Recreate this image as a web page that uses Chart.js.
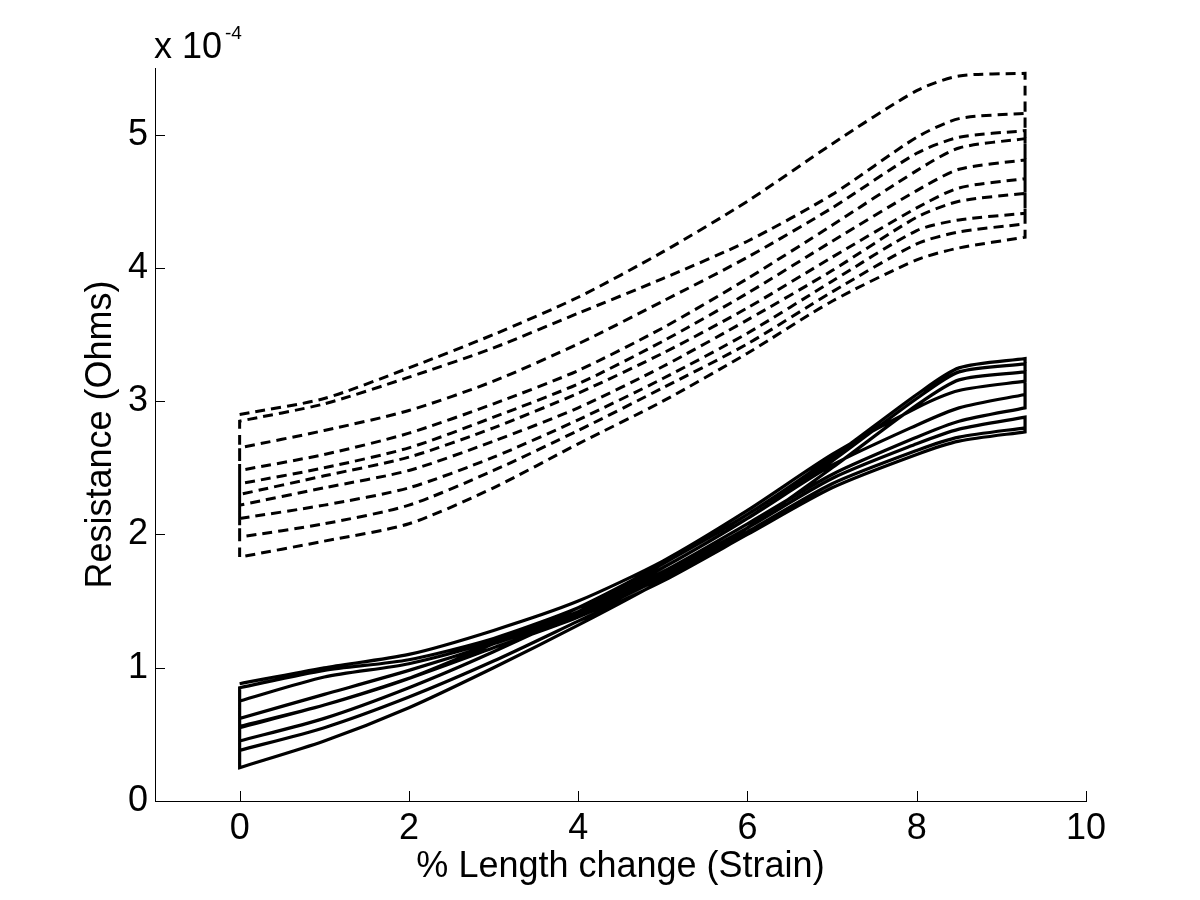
<!DOCTYPE html>
<html>
<head>
<meta charset="utf-8">
<title>Resistance vs strain</title>
<script src="https://cdn.jsdelivr.net/npm/chart.js@4/dist/chart.umd.min.js"></script>
<style>
    html, body { margin: 0; padding: 0; background: #fff; }
    #wrap { width: 1200px; height: 900px; }
</style>
</head>
<body>
<div id="wrap"><canvas id="strainChart" width="1200" height="900"></canvas></div>
<script>
const strain = [0, 1, 2, 3, 4, 5, 6, 7, 8, 8.5, 9.28];

// resistance, in units of 1e-4 Ohms (axis multiplier "x 10^-4")
// dashed bundle, listed top to bottom
const dashed1  = [2.90, 3.02, 3.25, 3.50, 3.78, 4.12, 4.50, 4.93, 5.33, 5.44, 5.46];
const dashed2  = [2.85, 2.98, 3.18, 3.40, 3.66, 3.92, 4.20, 4.55, 4.98, 5.12, 5.16];
const dashed3  = [2.65, 2.78, 2.93, 3.15, 3.43, 3.75, 4.08, 4.45, 4.86, 4.98, 5.03];
const dashed4  = [2.48, 2.60, 2.76, 2.98, 3.23, 3.55, 3.92, 4.32, 4.73, 4.90, 4.97];
const dashed5  = [2.38, 2.50, 2.65, 2.88, 3.13, 3.45, 3.81, 4.20, 4.58, 4.74, 4.81];
const dashed6  = [2.30, 2.44, 2.58, 2.80, 3.06, 3.36, 3.70, 4.08, 4.45, 4.60, 4.67];
const dashed7  = [2.22, 2.35, 2.48, 2.70, 2.95, 3.26, 3.61, 3.98, 4.38, 4.50, 4.56];
const dashed8  = [2.12, 2.22, 2.35, 2.58, 2.86, 3.17, 3.51, 3.90, 4.28, 4.36, 4.41];
const dashed9  = [1.98, 2.08, 2.22, 2.48, 2.78, 3.10, 3.43, 3.82, 4.18, 4.27, 4.33];
const dashed10 = [1.83, 1.95, 2.08, 2.35, 2.68, 3.00, 3.36, 3.75, 4.06, 4.15, 4.23];

// solid bundle
const solid1 = [0.55, 0.72, 0.92, 1.18, 1.45, 1.78, 2.15, 2.58, 3.05, 3.25, 3.32];
const solid2 = [0.45, 0.62, 0.85, 1.12, 1.42, 1.75, 2.12, 2.55, 3.02, 3.22, 3.28];
const solid3 = [0.25, 0.45, 0.70, 1.00, 1.32, 1.66, 2.05, 2.50, 2.97, 3.16, 3.22];
const solid4 = [0.88, 1.00, 1.10, 1.28, 1.50, 1.80, 2.18, 2.60, 2.95, 3.08, 3.15];
const solid5 = [0.85, 0.98, 1.06, 1.22, 1.45, 1.75, 2.12, 2.52, 2.82, 2.95, 3.05];
const solid6 = [0.75, 0.93, 1.03, 1.20, 1.42, 1.72, 2.08, 2.45, 2.73, 2.85, 2.95];
const solid7 = [0.62, 0.80, 0.98, 1.18, 1.40, 1.70, 2.05, 2.42, 2.68, 2.79, 2.88];
const solid8 = [0.56, 0.72, 0.92, 1.15, 1.38, 1.68, 2.02, 2.38, 2.63, 2.73, 2.80];
const solid9 = [0.38, 0.55, 0.78, 1.05, 1.35, 1.65, 2.00, 2.35, 2.60, 2.70, 2.77];

// order the passes are joined in (load, unload, load, ...)
const dashedCycle = [dashed1, dashed10, dashed2, dashed9, dashed3, dashed8, dashed4, dashed7, dashed5, dashed6];
const solidCycle = [solid4, solid3, solid5, solid1, solid6, solid2, solid7, solid9, solid8];

const xTicks = [0, 2, 4, 6, 8, 10];
const yTicks = [0, 1, 2, 3, 4, 5];

const FONT = '"Liberation Sans", Arial, Helvetica, sans-serif';

// join passes into one continuous trace, every other pass runs backwards.
// end points are doubled so the curve tension doesn't bulge past the turn-around
function joinPasses(passes) {
    const pts = [];
    passes.forEach((vals, i) => {
        const idx = strain.map((_, k) => k);
        if (i % 2 === 1) idx.reverse();
        idx.forEach((k, j) => {
            const p = { x: strain[k], y: vals[k] };
            pts.push(p);
            if (j === 0 || j === idx.length - 1) pts.push({ x: p.x, y: p.y });
        });
    });
    return pts;
}

// MATLAB style ticks pointing into the axes, plus the exponent label
const matlabAxes = {
    id: 'matlabAxes',
    afterDraw(chart) {
        const ctx = chart.ctx;
        const xs = chart.scales.x;
        const ys = chart.scales.y;
        const area = chart.chartArea;
        ctx.save();
        ctx.strokeStyle = '#000';
        ctx.lineWidth = 1;
        ctx.beginPath();
        xTicks.forEach(v => {
            const px = Math.round(xs.getPixelForValue(v)) + 0.5;
            ctx.moveTo(px, area.bottom);
            ctx.lineTo(px, area.bottom - 10);
        });
        yTicks.forEach(v => {
            const py = Math.round(ys.getPixelForValue(v)) + 0.5;
            ctx.moveTo(area.left, py);
            ctx.lineTo(area.left + 10, py);
        });
        ctx.stroke();

        ctx.fillStyle = '#000';
        ctx.textBaseline = 'alphabetic';
        ctx.textAlign = 'left';
        ctx.font = '36px ' + FONT;
        ctx.fillText('x 10', area.left - 1, 58);
        const w = ctx.measureText('x 10').width;
        ctx.font = '19px ' + FONT;
        ctx.fillText('-4', area.left - 1 + w + 3, 39);
        ctx.restore();
    }
};

document.addEventListener('DOMContentLoaded', () => {
    const ctx = document.getElementById('strainChart').getContext('2d');

    new Chart(ctx, {
        type: 'scatter',
        data: {
            datasets: [{
                label: 'Dashed',
                data: joinPasses(dashedCycle),
                showLine: true,
                borderColor: '#000',
                borderWidth: 3,
                borderDash: [10, 6],
                pointRadius: 0,
                tension: 0.25
            }, {
                label: 'Solid',
                data: joinPasses(solidCycle),
                showLine: true,
                borderColor: '#000',
                borderWidth: 3.2,
                pointRadius: 0,
                tension: 0.25
            }]
        },
        options: {
            responsive: false,
            animation: false,
            layout: {
                padding: { top: 68, right: 114, bottom: 0, left: 0 }
            },
            plugins: {
                legend: { display: false },
                tooltip: { enabled: false }
            },
            scales: {
                x: {
                    type: 'linear',
                    min: -1,
                    max: 10,
                    afterBuildTicks: scale => { scale.ticks = xTicks.map(v => ({ value: v })); },
                    afterFit: scale => { scale.height = 99; },
                    grid: { display: false, drawTicks: false },
                    border: { display: true, color: '#000', width: 1 },
                    ticks: {
                        padding: 6,
                        color: '#000',
                        font: { family: FONT, size: 36 }
                    },
                    title: {
                        display: true,
                        text: '% Length change (Strain)',
                        color: '#000',
                        font: { family: FONT, size: 36 },
                        padding: { top: 0, bottom: 11 }
                    }
                },
                y: {
                    type: 'linear',
                    min: 0,
                    max: 5.5,
                    afterBuildTicks: scale => { scale.ticks = yTicks.map(v => ({ value: v })); },
                    afterFit: scale => { scale.width = 155; },
                    grid: { display: false, drawTicks: false },
                    border: { display: true, color: '#000', width: 1 },
                    ticks: {
                        padding: 7,
                        color: '#000',
                        font: { family: FONT, size: 36 }
                    },
                    title: {
                        display: true,
                        text: 'Resistance (Ohms)',
                        color: '#000',
                        font: { family: FONT, size: 36 },
                        padding: { top: 79, bottom: 0 }
                    }
                }
            }
        },
        plugins: [matlabAxes]
    });
});
</script>
</body>
</html>
